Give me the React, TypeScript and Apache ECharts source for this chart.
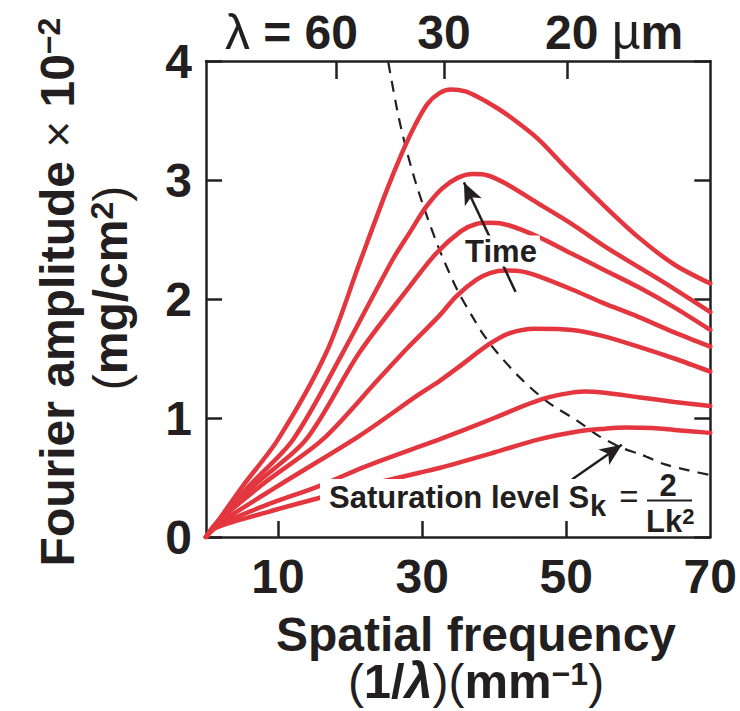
import React, { useEffect, useRef } from "react";
import * as echarts from "echarts";

// Spatial frequency k (mm^-1) vs Fourier amplitude (x1e-2 mg/cm^2)
const curveA = [[0,0],[1.5,0.12],[5,0.42],[10,0.82],[16.7,1.55],[21.3,2.3],[25,2.9],[27.3,3.24],[29.1,3.47],[30.75,3.64],[32.4,3.73],[34,3.76],[36,3.745],[38,3.69],[40,3.62],[42,3.54],[46,3.35],[50,3.1],[55,2.8],[60,2.52],[65,2.29],[70,2.13]];
const curveB = [[0,0],[1.5,0.12],[6,0.43],[12.1,0.82],[19,1.55],[25.9,2.33],[28.4,2.57],[30.5,2.77],[32.8,2.93],[35,3.02],[37,3.05],[39,3.04],[41.6,2.97],[46.2,2.8],[50.8,2.63],[55.4,2.44],[60,2.27],[64.6,2.1],[70,1.89]];
const curveC = [[0,0],[1.5,0.12],[7,0.45],[13.9,0.82],[21.3,1.55],[28.2,2.1],[31.9,2.38],[35.4,2.57],[37.5,2.63],[39.5,2.64],[42,2.62],[46.2,2.52],[50.8,2.38],[55.4,2.24],[60,2.1],[65,1.93],[70,1.74]];
const curveD = [[0,0],[1.5,0.12],[8,0.45],[16.2,0.82],[24,1.33],[28,1.59],[32.4,1.86],[34.7,2.02],[37.5,2.16],[39.5,2.22],[41.6,2.24],[44,2.23],[46.2,2.19],[50.8,2.08],[55,1.97],[60,1.85],[65,1.72],[70,1.6]];
const curveE = [[0,0],[1.5,0.1],[10,0.43],[21.3,0.85],[29.6,1.2],[32.4,1.31],[35.1,1.43],[39.3,1.62],[42,1.71],[45.7,1.75],[50.8,1.74],[55,1.69],[60,1.6],[65,1.5],[70,1.39]];
const curveF = [[0,0],[1.5,0.09],[8,0.26],[15.8,0.43],[22,0.59],[29.6,0.76],[32.4,0.82],[40,1.0],[44,1.1],[47,1.165],[50,1.205],[52.5,1.222],[55,1.215],[60,1.175],[65,1.135],[70,1.1]];
const curveG = [[0,0],[1.5,0.08],[8,0.2],[15.8,0.33],[22,0.43],[29.6,0.54],[32.4,0.58],[40,0.71],[46.2,0.82],[52,0.89],[55.4,0.91],[58.2,0.92],[62,0.915],[65,0.9],[70,0.875]];
const growthCurves = [curveA, curveB, curveC, curveD, curveE, curveF, curveG];

// Saturation level S_k = 2/(L k^2), dashed
const saturation = [[25.3,3.99],[26.5,3.6],[27.5,3.33],[29,3.0],[30.7,2.69],[32.5,2.4],[34.85,2.08],[37,1.85],[38.3,1.72],[40,1.58],[43.4,1.35],[47.3,1.14],[51.7,0.97],[54.5,0.85],[57.7,0.75],[60.5,0.69],[63.7,0.61],[67,0.56],[70,0.52]];

// Axes
const xBottomTicks = [10, 30, 50];
const xBottomLabels = [10, 30, 50, 70];
const xTopTicks = [18.1, 33.1, 50.1];
const topLabelTexts = ["λ = 60", "30", "20 µm"];

// Annotation arrows [tail, tip]
const timeArrow = [[42.97, 2.06], [35.8, 2.98]];
const satArrow = [[50.8, 0.483], [57.72, 0.776]];

const INK = "#231F20";
const RED = "#E3363E";
const FONT = '"Liberation Sans", Arial, Helvetica, sans-serif';

type Seg = { t: string; size: number; weight: string; italic?: boolean; rise?: number };

export default function App() {
  const ref = useRef<HTMLDivElement>(null);

  useEffect(() => {
    if (!ref.current) return;
    const chart = echarts.init(ref.current, null, { renderer: "svg" });

    const axisLine = { show: true, onZero: false, lineStyle: { color: INK, width: 2.5 } };
    const tickStyle = { color: INK, width: 2.5 };

    const bold = (size: number, extra: any = {}) => ({
      fontSize: size, fontWeight: "bold", fontFamily: FONT, fill: INK, ...extra,
    });
    const normal = (size: number, extra: any = {}) => ({
      fontSize: size, fontWeight: "normal", fontFamily: FONT, fill: INK, ...extra,
    });

    // measure-based horizontal text run with baseline control (for superscripts)
    const ctx = document.createElement("canvas").getContext("2d") as CanvasRenderingContext2D;
    const runAt = (segs: Seg[], cx: number, baseline: number) => {
      const widths = segs.map((s) => {
        ctx.font = `${s.italic ? "italic " : ""}${s.weight} ${s.size}px ${FONT}`;
        return ctx.measureText(s.t).width;
      });
      const total = widths.reduce((a, b) => a + b, 0);
      let x = cx - total / 2;
      return segs.map((s, i) => {
        const el = {
          type: "text", x, y: baseline - (s.rise || 0) - 0.3465 * s.size, z: 100,
          style: {
            text: s.t, align: "left", verticalAlign: "middle", textAlign: "left", textVerticalAlign: "middle",
            fontSize: s.size, fontWeight: s.weight, fontStyle: s.italic ? "italic" : "normal",
            fontFamily: FONT, fill: INK,
          },
        };
        x += widths[i];
        return el;
      });
    };

    const series: any[] = growthCurves.map((d, i) => ({
      type: "line",
      name: "t" + i,
      data: d,
      showSymbol: false,
      smooth: 0.3,
      silent: true,
      z: 3,
      lineStyle: { color: RED, width: 4.5, cap: "round" },
    }));

    series.push({
      type: "line",
      name: "saturation",
      data: saturation,
      showSymbol: false,
      smooth: 0.3,
      silent: true,
      z: 2,
      lineStyle: { color: INK, width: 2.2, type: [11, 8] },
      markLine: {
        silent: true,
        symbol: ["none", "arrow"],
        symbolSize: [14, 22],
        label: { show: false },
        lineStyle: { color: INK, width: 2.5, type: "solid" },
        itemStyle: { color: INK },
        data: [
          [{ coord: timeArrow[0] }, { coord: timeArrow[1] }],
          [{ coord: satArrow[0] }, { coord: satArrow[1] }],
        ],
      },
    });

    const graphic: any[] = [
      // top wavelength labels
      {
        type: "text", x: 358, y: 32, z: 100,
        style: {
          text: "{l|λ}{b| = 60}", align: "right", verticalAlign: "middle",
          textAlign: "right", textVerticalAlign: "middle",
          rich: { l: normal(50), b: bold(48) },
        },
      },
      {
        type: "text", x: 444, y: 32, z: 100,
        style: { text: topLabelTexts[1], align: "center", verticalAlign: "middle", textAlign: "center", textVerticalAlign: "middle", ...bold(48) },
      },
      {
        type: "text", x: 545, y: 32, z: 100,
        style: {
          text: "{b|20 }{l|µ}{b|m}", align: "left", verticalAlign: "middle",
          textAlign: "left", textVerticalAlign: "middle",
          rich: { l: normal(50), b: bold(48) },
        },
      },
      // y title line 1
      {
        type: "text", x: 57, y: 292, rotation: Math.PI / 2, z: 100,
        style: {
          text: "{b|Fourier amplitude }{x|×}{b| 10}{s|−2}",
          align: "center", verticalAlign: "middle", textAlign: "center", textVerticalAlign: "middle",
          rich: {
            b: bold(48, { lineHeight: 48, verticalAlign: "bottom" }),
            x: normal(46, { lineHeight: 48, verticalAlign: "bottom" }),
            s: bold(32, { lineHeight: 34, verticalAlign: "top" }),
          },
        },
      },
      // y title line 2
      {
        type: "text", x: 110, y: 288, rotation: Math.PI / 2, z: 100,
        style: {
          text: "{p|(}{b|mg/cm}{s|2}{p|)}",
          align: "center", verticalAlign: "middle", textAlign: "center", textVerticalAlign: "middle",
          rich: {
            p: normal(48, { lineHeight: 48, verticalAlign: "bottom" }),
            b: bold(48, { lineHeight: 48, verticalAlign: "bottom" }),
            s: bold(32, { lineHeight: 34, verticalAlign: "top" }),
          },
        },
      },
      // x title line 1
      {
        type: "text", x: 476, y: 634, z: 100,
        style: { text: "Spatial frequency", align: "center", verticalAlign: "middle", textAlign: "center", textVerticalAlign: "middle", ...bold(48) },
      },
      // x title line 2: (1/λ)(mm⁻¹)
      ...runAt(
        [
          { t: "(", size: 48, weight: "normal" },
          { t: "1/", size: 49, weight: "bold" },
          { t: "λ", size: 50, weight: "bold", italic: true },
          { t: ")(", size: 48, weight: "normal" },
          { t: "mm", size: 49, weight: "bold" },
          { t: "−1", size: 32, weight: "bold", rise: 13 },
          { t: ")", size: 48, weight: "normal" },
        ],
        476,
        698
      ),
      // Time label
      {
        type: "text", x: 501, y: 251, z: 100,
        style: {
          text: "Time", align: "center", verticalAlign: "middle", textAlign: "center", textVerticalAlign: "middle",
          backgroundColor: "#ffffff", padding: [0, 3, 0, 3], ...bold(31),
        },
      },
      // Saturation label knockout box
      {
        type: "rect", z: 99, shape: { x: 320, y: 479, width: 382, height: 38 },
        style: { fill: "#ffffff" },
      },
      {
        type: "text", x: 329, y: 497, z: 100,
        style: { text: "Saturation level S", align: "left", verticalAlign: "middle", textAlign: "left", textVerticalAlign: "middle", ...bold(31) },
      },
      {
        type: "text", x: 590, y: 506, z: 100,
        style: { text: "k", align: "left", verticalAlign: "middle", textAlign: "left", textVerticalAlign: "middle", ...bold(29) },
      },
      {
        type: "text", x: 629, y: 496, z: 100,
        style: { text: "=", align: "center", verticalAlign: "middle", textAlign: "center", textVerticalAlign: "middle", ...normal(33) },
      },
      {
        type: "text", x: 668, y: 485, z: 100,
        style: { text: "2", align: "center", verticalAlign: "middle", textAlign: "center", textVerticalAlign: "middle", ...bold(31) },
      },
      {
        type: "line", z: 100, shape: { x1: 647, y1: 500.5, x2: 692, y2: 500.5 },
        style: { stroke: INK, lineWidth: 2 },
      },
      {
        type: "text", x: 646, y: 521, z: 100,
        style: {
          text: "{b|Lk}{s|2}", align: "left", verticalAlign: "middle", textAlign: "left", textVerticalAlign: "middle",
          rich: {
            b: bold(31, { lineHeight: 31, verticalAlign: "bottom" }),
            s: bold(22, { lineHeight: 22, verticalAlign: "top" }),
          },
        },
      },
    ];

    chart.setOption({
      animation: false,
      grid: { left: 206, right: 28, top: 61, bottom: 174, containLabel: false },
      xAxis: [
        {
          type: "value", min: 0, max: 70, position: "bottom",
          axisLine,
          axisTick: { show: true, inside: true, length: 16, lineStyle: tickStyle, customValues: xBottomTicks },
          axisLabel: {
            show: true, customValues: xBottomLabels, margin: 15,
            fontSize: 48, fontWeight: "bold", fontFamily: FONT, color: INK,
          },
          splitLine: { show: false },
        },
        {
          type: "value", min: 0, max: 70, position: "top",
          axisLine,
          axisTick: { show: true, inside: true, length: 18, lineStyle: tickStyle, customValues: xTopTicks },
          axisLabel: { show: false },
          splitLine: { show: false },
        },
      ],
      yAxis: [
        {
          type: "value", min: 0, max: 4, interval: 1, position: "left",
          axisLine,
          axisTick: { show: true, inside: true, length: 16, lineStyle: tickStyle },
          axisLabel: { show: true, margin: 14, fontSize: 48, fontWeight: "bold", fontFamily: FONT, color: INK },
          splitLine: { show: false },
        },
        {
          type: "value", min: 0, max: 4, interval: 1, position: "right",
          axisLine,
          axisTick: { show: true, inside: true, length: 16, lineStyle: tickStyle },
          axisLabel: { show: false },
          splitLine: { show: false },
        },
      ],
      series,
      graphic,
    });

    return () => chart.dispose();
  }, []);

  return (
    <div
      ref={ref}
      style={{ position: "fixed", left: 0, top: 0, width: 740, height: 711, background: "#ffffff" }}
    />
  );
}
